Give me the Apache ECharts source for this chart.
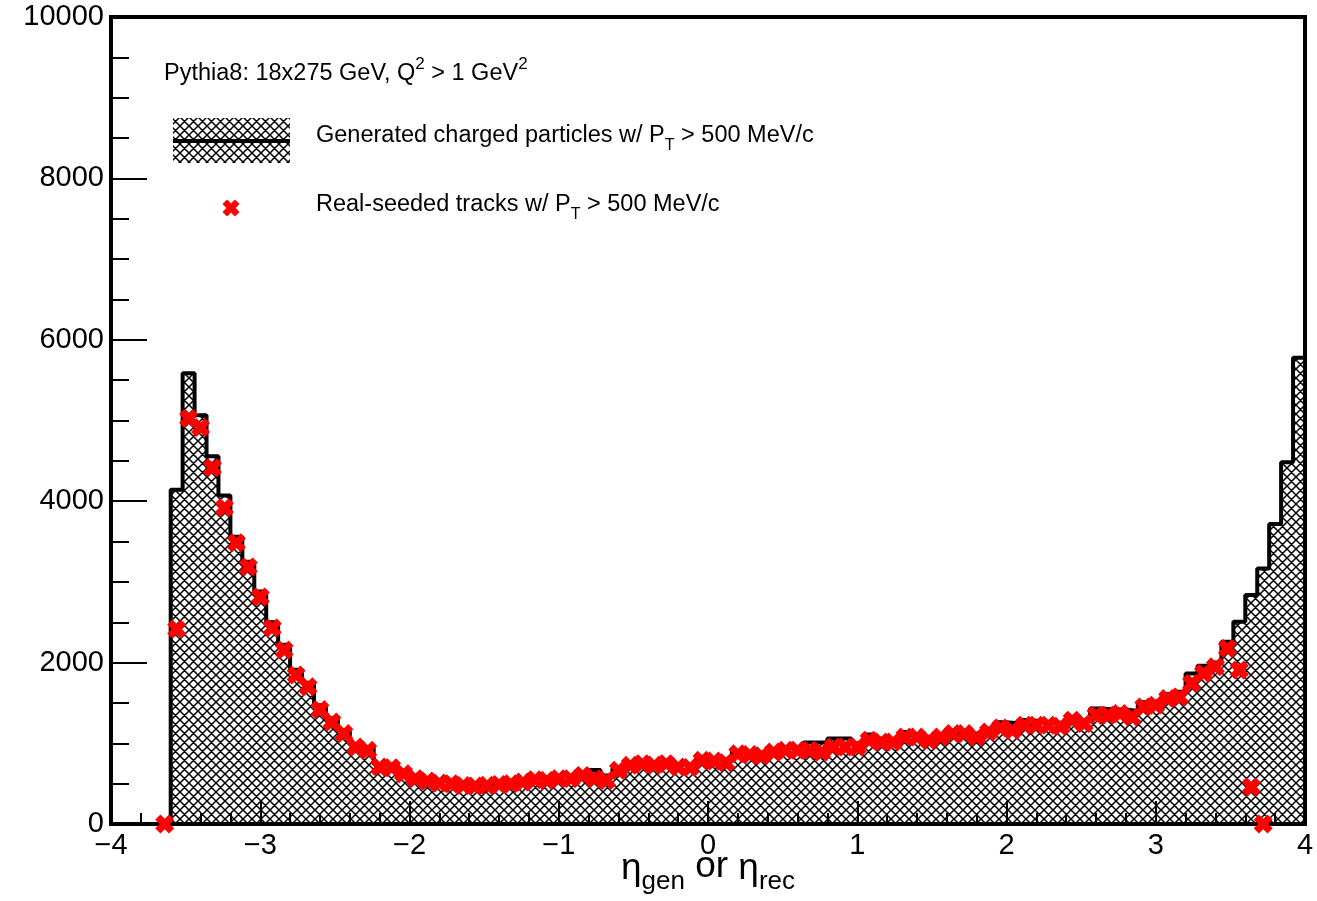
<!DOCTYPE html>
<html><head><meta charset="utf-8">
<script src="https://cdn.jsdelivr.net/npm/echarts@6/dist/echarts.min.js"></script>
<style>html,body{margin:0;padding:0;background:#fff}#c{width:1317px;height:901px}</style>
</head><body><div id="c"></div>
<script>
// Histogram binning: 100 bins of width 0.08 from -4 to 4
const BIN_START = -4;
const BIN_WIDTH = 0.08;

// Generated charged particles (histogram counts per bin)
const genCounts = [
  0, 0, 0, 0, 0, 4143, 5584, 5066, 4557, 4072,
  3560, 3250, 2880, 2500, 2220, 1910, 1750, 1470, 1310, 1160,
  990, 950, 740, 720, 650, 590, 555, 530, 520, 500,
  490, 500, 510, 520, 545, 570, 565, 590, 600, 640,
  670, 600, 690, 750, 770, 760, 770, 740, 730, 810,
  810, 800, 900, 890, 880, 920, 940, 950, 1010, 1010,
  1060, 1060, 1000, 1110, 1060, 1050, 1140, 1110, 1080, 1110,
  1160, 1150, 1120, 1180, 1260, 1250, 1290, 1270, 1260, 1250,
  1320, 1290, 1430, 1420, 1420, 1400, 1510, 1530, 1610, 1640,
  1866, 1960, 2000, 2259, 2507, 2839, 3166, 3717, 4482, 5779
];

// Real-seeded tracks (markers at bin centres; null = no marker)
const recoCounts = [
  null, null, null, null, 0, 2416, 5025, 4913, 4416, 3919,
  3484, 3186, 2814, 2429, 2155, 1845, 1700, 1418, 1265, 1120,
  954, 913, 706, 698, 624, 561, 532, 507, 499, 478,
  470, 480, 490, 499, 520, 549, 540, 561, 561, 602,
  561, 540, 665, 727, 748, 727, 748, 706, 700, 790,
  780, 760, 870, 860, 845, 892, 913, 913, 913, 892,
  954, 954, 954, 1037, 1016, 1016, 1078, 1078, 1037, 1078,
  1120, 1120, 1078, 1140, 1190, 1161, 1224, 1224, 1224, 1211,
  1286, 1245, 1348, 1348, 1369, 1327, 1451, 1472, 1555, 1575,
  1742, 1866, 1948, 2176, 1907, 457, 0, null, null, null
];

const titleText = ['Pythia8: 18x275 GeV, Q', '2', ' > 1 GeV', '2'];
const legendGen = ['Generated charged particles w/ P', 'T', ' > 500 MeV/c'];
const legendReco = ['Real-seeded tracks w/ P', 'T', ' > 500 MeV/c'];

const FONT = '"Liberation Sans", Arial, Helvetica, sans-serif';
const A = 0.27;
const X_PTS = [[0,A],[A,0],[0.5,0.5-A],[1-A,0],[1,A],[0.5+A,0.5],[1,1-A],[1-A,1],[0.5,0.5+A],[A,1],[0,1-A],[0.5-A,0.5]];
const X_PATH = 'path://M' + X_PTS.map(p => p[0] + ',' + p[1]).join(' L') + ' Z';

function hatchCanvas() {
  const s = 9;
  const c = document.createElement('canvas');
  c.width = s; c.height = s;
  const g = c.getContext('2d');
  g.strokeStyle = '#000';
  g.lineWidth = 1.5;
  g.beginPath();
  for (const k of [-s, 0, s]) {
    g.moveTo(k, 0); g.lineTo(k + s, s);
    g.moveTo(k + s, 0); g.lineTo(k, s);
  }
  g.stroke();
  return c;
}
const hatch = hatchCanvas();

const mctx = document.createElement('canvas').getContext('2d');
function tw(t, size) { mctx.font = size + 'px ' + FONT; return mctx.measureText(t).width; }

// parts: [text, fontSize, dy]
function textRun(x, y, parts, center) {
  let total = 0;
  parts.forEach(p => total += tw(p[0], p[1]));
  let cx = center ? x - total / 2 : x;
  const out = [];
  parts.forEach(p => {
    out.push({
      type: 'text', x: cx, y: y + p[2], z: 100,
      style: { text: p[0], fontSize: p[1], fontFamily: FONT, fill: '#000', align: 'left', verticalAlign: 'middle' }
    });
    cx += tw(p[0], p[1]);
  });
  return out;
}

const histData = genCounts.map((v, i) => [BIN_START + i * BIN_WIDTH, v]);
histData.push([BIN_START + genCounts.length * BIN_WIDTH, genCounts[genCounts.length - 1]]);
const recoData = [];
recoCounts.forEach((v, i) => { if (v !== null) recoData.push([BIN_START + (i + 0.5) * BIN_WIDTH, v]); });

const MS = 19;
const LMS = 17;
const graphics = [].concat(
  textRun(164, 74, [[titleText[0], 23.5, 0], [titleText[1], 17, -10], [titleText[2], 23.5, 0], [titleText[3], 17, -10]]),
  textRun(316, 136, [[legendGen[0], 23.5, 0], [legendGen[1], 16, 10], [legendGen[2], 23.5, 0]]),
  textRun(316, 205, [[legendReco[0], 23.5, 0], [legendReco[1], 16, 10], [legendReco[2], 23.5, 0]]),
  textRun(708, 869, [['η', 37, 0], ['gen', 26, 13], [' or ', 37, -2], ['η', 37, 0], ['rec', 26, 13]], true),
  [
    { type: 'rect', z: 100, shape: { x: 173, y: 118, width: 117, height: 45 }, style: { fill: { image: hatch, repeat: 'repeat' } } },
    { type: 'line', z: 101, shape: { x1: 173, y1: 141, x2: 290, y2: 141 }, style: { stroke: '#000', lineWidth: 4 } },
    { type: 'polygon', z: 101, shape: { points: X_PTS.map(p => [231 - LMS / 2 + p[0] * LMS, 208 - LMS / 2 + p[1] * LMS]) }, style: { fill: '#ff0000' } }
  ]
);

const chart = echarts.init(document.getElementById('c'), null, { renderer: 'canvas' });
chart.setOption({
  backgroundColor: '#fff',
  animation: false,
  grid: { left: 111, right: 12, top: 17, bottom: 77, show: true, borderColor: '#000', borderWidth: 4, backgroundColor: 'transparent' },
  xAxis: {
    type: 'value', min: -4, max: 4, interval: 1,
    axisLine: { onZero: false, lineStyle: { color: '#000', width: 4 } },
    axisTick: { inside: true, length: 23, lineStyle: { color: '#000', width: 2 } },
    minorTick: { show: true, splitNumber: 5, length: 11, lineStyle: { color: '#000', width: 2 } },
    splitLine: { show: false },
    axisLabel: { color: '#000', fontSize: 29, fontFamily: FONT, margin: 7, formatter: v => String(v).replace('-', '\u2212') }
  },
  yAxis: {
    type: 'value', min: 0, max: 10000, interval: 2000,
    axisLine: { onZero: false, lineStyle: { color: '#000', width: 4 } },
    axisTick: { inside: true, length: 36, lineStyle: { color: '#000', width: 2 } },
    minorTick: { show: true, splitNumber: 4, length: 18, lineStyle: { color: '#000', width: 2 } },
    splitLine: { show: false },
    axisLabel: { color: '#000', fontSize: 29, fontFamily: FONT, margin: 7, formatter: v => String(v) }
  },
  series: [
    {
      name: 'Generated charged particles w/ PT > 500 MeV/c',
      type: 'line', step: 'end', data: histData, showSymbol: false, symbol: 'none',
      lineStyle: { color: '#000', width: 4 },
      areaStyle: { color: { image: hatch, repeat: 'repeat' }, opacity: 1 },
      z: 3, clip: false
    },
    {
      name: 'Real-seeded tracks w/ PT > 500 MeV/c',
      type: 'scatter', data: recoData, symbol: X_PATH, symbolSize: MS,
      itemStyle: { color: '#ff0000', opacity: 1 },
      z: 5, clip: false
    }
  ],
  graphic: graphics
});
</script>
</body></html>
